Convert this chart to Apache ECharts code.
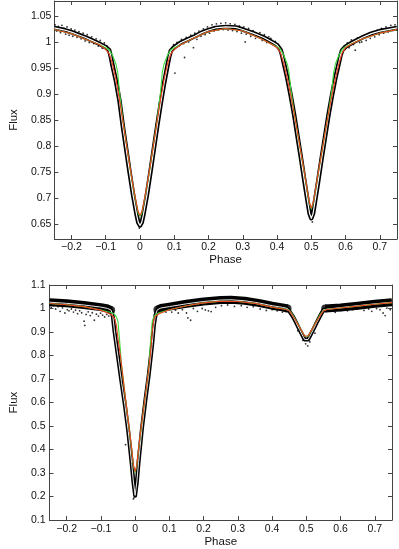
<!DOCTYPE html>
<html>
<head>
<meta charset="utf-8">
<script src="https://cdn.jsdelivr.net/npm/echarts@6/dist/echarts.min.js"></script>
<style>
  html, body { margin: 0; padding: 0; background: #fff; }
  #main { width: 399px; height: 549px; }
</style>
</head>
<body>
<div id="main"></div>
<script>
// tick labels
const xTicks = [-0.2, -0.1, 0, 0.1, 0.2, 0.3, 0.4, 0.5, 0.6, 0.7];
const topYTicks = [0.65, 0.7, 0.75, 0.8, 0.85, 0.9, 0.95, 1, 1.05];
const botYTicks = [0.1, 0.2, 0.3, 0.4, 0.5, 0.6, 0.7, 0.8, 0.9, 1, 1.1];

// top panel: [phase, flux]
const topBlack = [
  [-0.25,1.028],[-0.22,1.024],[-0.20,1.020],[-0.18,1.015],[-0.16,1.010],[-0.14,1.004],[-0.12,0.998],
  [-0.10,0.991],[-0.09,0.985],[-0.085,0.972],[-0.08,0.955],[-0.07,0.925],[-0.06,0.888],[-0.05,0.838],
  [-0.04,0.793],[-0.03,0.748],[-0.02,0.705],[-0.01,0.668],[-0.005,0.653],[0,0.647],[0.005,0.653],
  [0.01,0.668],[0.02,0.705],[0.03,0.748],[0.04,0.793],[0.05,0.838],[0.06,0.880],[0.07,0.920],
  [0.08,0.955],[0.085,0.972],[0.09,0.984],[0.10,0.991],[0.12,1.000],[0.14,1.006],[0.16,1.012],
  [0.18,1.019],[0.20,1.024],[0.22,1.028],[0.25,1.030],[0.28,1.029],[0.30,1.025],[0.33,1.018],
  [0.36,1.010],[0.38,1.003],[0.40,0.995],[0.41,0.986],[0.415,0.975],[0.42,0.960],[0.43,0.931],
  [0.44,0.897],[0.45,0.860],[0.46,0.818],[0.47,0.776],[0.48,0.732],[0.49,0.690],[0.495,0.670],
  [0.50,0.661],[0.505,0.670],[0.51,0.690],[0.52,0.732],[0.53,0.776],[0.54,0.818],[0.55,0.860],
  [0.56,0.897],[0.57,0.931],[0.58,0.960],[0.585,0.975],[0.59,0.985],[0.60,0.992],[0.62,1.000],
  [0.65,1.010],[0.675,1.017],[0.70,1.022],[0.75,1.028]
];
const topRed = [
  [-0.25,1.025],[-0.20,1.017],[-0.15,1.004],[-0.12,0.996],[-0.10,0.987],[-0.09,0.978],[-0.08,0.958],
  [-0.07,0.928],[-0.06,0.890],[-0.05,0.848],[-0.04,0.805],[-0.03,0.763],[-0.02,0.723],[-0.01,0.688],
  [-0.005,0.673],[0,0.667],[0.005,0.673],[0.01,0.688],[0.02,0.723],[0.03,0.763],[0.04,0.805],
  [0.05,0.848],[0.06,0.890],[0.07,0.928],[0.08,0.958],[0.09,0.978],[0.10,0.987],[0.12,0.996],
  [0.15,1.006],[0.20,1.021],[0.25,1.027],[0.30,1.022],[0.35,1.008],[0.38,0.998],[0.40,0.990],
  [0.41,0.980],[0.42,0.958],[0.43,0.930],[0.44,0.898],[0.45,0.863],[0.46,0.825],[0.47,0.786],
  [0.48,0.748],[0.49,0.708],[0.495,0.690],[0.50,0.681],[0.505,0.690],[0.51,0.708],[0.52,0.748],
  [0.53,0.786],[0.54,0.825],[0.55,0.863],[0.56,0.898],[0.57,0.930],[0.58,0.958],[0.59,0.980],
  [0.60,0.990],[0.62,0.998],[0.65,1.007],[0.70,1.018],[0.75,1.025]
];
const topGreen = [
  [-0.25,1.025],[-0.20,1.017],[-0.15,1.004],[-0.12,0.996],[-0.10,0.990],[-0.09,0.986],[-0.08,0.975],
  [-0.07,0.958],[-0.065,0.942],[-0.06,0.905],[-0.05,0.850],[-0.04,0.805],[-0.03,0.762],[-0.02,0.721],
  [-0.01,0.686],[-0.005,0.670],[0,0.665],[0.005,0.670],[0.01,0.686],[0.02,0.721],[0.03,0.762],
  [0.04,0.805],[0.05,0.850],[0.06,0.905],[0.065,0.942],[0.07,0.958],[0.08,0.975],[0.09,0.986],
  [0.10,0.990],[0.12,0.996],[0.15,1.006],[0.20,1.021],[0.25,1.027],[0.30,1.022],[0.35,1.008],
  [0.38,0.998],[0.40,0.992],[0.41,0.987],[0.42,0.975],[0.43,0.958],[0.435,0.942],[0.44,0.910],
  [0.45,0.865],[0.46,0.825],[0.47,0.785],[0.48,0.747],[0.49,0.706],[0.495,0.688],[0.50,0.679],
  [0.505,0.688],[0.51,0.706],[0.52,0.747],[0.53,0.785],[0.54,0.825],[0.55,0.865],[0.56,0.910],
  [0.565,0.942],[0.57,0.958],[0.58,0.975],[0.59,0.987],[0.60,0.992],[0.62,0.998],[0.65,1.007],
  [0.70,1.018],[0.75,1.025]
];
const topPts = [
  [-0.248,1.034],[-0.243,1.022],[-0.238,1.031],[-0.232,1.019],[-0.228,1.033],[-0.222,1.027],
  [-0.217,1.016],[-0.213,1.030],[-0.207,1.014],[-0.201,1.026],[-0.196,1.012],[-0.19,1.024],
  [-0.184,1.010],[-0.178,1.021],[-0.172,1.007],[-0.166,1.018],[-0.16,1.003],[-0.154,1.015],
  [-0.148,1.000],[-0.141,1.011],[-0.135,0.998],[-0.128,1.007],[-0.122,0.993],[-0.116,1.004],
  [-0.11,0.989],[-0.104,0.999],[-0.097,0.994],
  [0.098,0.996],[0.102,0.941],[0.108,1.000],[0.115,0.994],[0.121,1.006],[0.127,0.998],[0.130,0.971],
  [0.135,1.010],[0.142,1.001],[0.148,1.014],[0.156,0.990],[0.16,1.018],[0.166,1.006],[0.172,1.022],
  [0.178,1.012],[0.185,1.026],[0.19,1.015],[0.197,1.030],[0.203,1.018],[0.21,1.034],[0.216,1.022],
  [0.223,1.036],[0.229,1.024],[0.236,1.037],[0.243,1.025],[0.25,1.038],[0.257,1.024],[0.263,1.036],
  [0.27,1.023],[0.277,1.035],[0.283,1.021],[0.29,1.032],[0.296,1.018],[0.303,1.030],[0.307,1.001],
  [0.31,1.016],[0.317,1.027],[0.323,1.012],[0.33,1.023],[0.337,1.008],[0.345,1.014],[0.35,1.019],
  [0.357,1.004],[0.363,1.015],[0.37,1.000],[0.376,1.011],[0.382,1.008],[0.388,0.996],[0.395,1.002],
  [0.402,0.990],
  [0.605,0.999],[0.61,0.990],[0.617,1.005],[0.623,0.996],[0.628,0.985],[0.635,1.009],[0.641,1.000],
  [0.647,1.001],[0.653,1.013],[0.66,1.004],[0.666,1.017],[0.672,1.008],[0.679,1.021],[0.685,1.011],
  [0.692,1.024],[0.698,1.015],[0.705,1.027],[0.711,1.018],[0.718,1.030],[0.724,1.020],[0.732,1.033],
  [0.738,1.023],[0.744,1.034],[0.749,1.024],
  [0.503,0.654],[-0.002,0.642]
];

// bottom panel: [phase, flux]
const botBlack = [
  [-0.25,1.027],[-0.20,1.022],[-0.15,1.015],[-0.10,1.006],[-0.08,1.000],[-0.07,0.993],[-0.065,0.965],
  [-0.06,0.900],[-0.05,0.795],[-0.04,0.690],[-0.03,0.590],[-0.02,0.477],[-0.01,0.340],[-0.005,0.262],
  [0,0.205],[0.005,0.262],[0.01,0.345],[0.02,0.490],[0.03,0.610],[0.04,0.720],[0.05,0.850],
  [0.055,0.930],[0.06,0.975],[0.065,0.995],[0.075,1.002],[0.10,1.008],[0.15,1.020],[0.20,1.030],
  [0.25,1.036],[0.28,1.037],[0.32,1.033],[0.36,1.024],[0.40,1.012],[0.43,1.005],[0.445,1.000],
  [0.45,0.995],[0.46,0.968],[0.47,0.940],[0.48,0.910],[0.49,0.882],[0.495,0.868],[0.50,0.862],
  [0.505,0.868],[0.51,0.882],[0.52,0.910],[0.53,0.940],[0.54,0.968],[0.55,0.995],[0.555,1.000],
  [0.60,1.004],[0.65,1.012],[0.70,1.020],[0.75,1.027]
];
const botRed = [
  [-0.25,1.021],[-0.20,1.016],[-0.15,1.008],[-0.10,0.993],[-0.08,0.981],[-0.07,0.975],[-0.065,0.970],
  [-0.06,0.958],[-0.055,0.930],[-0.05,0.872],[-0.045,0.820],[-0.04,0.765],[-0.03,0.640],[-0.02,0.520],
  [-0.01,0.405],[-0.005,0.335],[0,0.307],[0.005,0.335],[0.01,0.405],[0.02,0.520],[0.03,0.630],
  [0.04,0.745],[0.045,0.810],[0.05,0.905],[0.055,0.955],[0.06,0.968],[0.07,0.978],[0.10,0.995],
  [0.15,1.012],[0.20,1.024],[0.25,1.031],[0.30,1.030],[0.35,1.022],[0.40,1.006],[0.44,0.996],
  [0.45,0.990],[0.46,0.970],[0.47,0.946],[0.48,0.921],[0.49,0.896],[0.495,0.883],[0.50,0.877],
  [0.505,0.883],[0.51,0.896],[0.52,0.921],[0.53,0.946],[0.54,0.970],[0.55,0.990],[0.56,0.996],
  [0.60,1.002],[0.65,1.010],[0.70,1.018],[0.75,1.025]
];
const botGreen = [
  [-0.25,1.021],[-0.20,1.016],[-0.15,1.008],[-0.10,0.994],[-0.08,0.986],[-0.07,0.983],[-0.065,0.980],
  [-0.06,0.975],[-0.055,0.965],[-0.05,0.945],[-0.045,0.860],[-0.04,0.765],[-0.03,0.640],[-0.02,0.518],
  [-0.01,0.402],[-0.005,0.331],[0,0.303],[0.005,0.331],[0.01,0.402],[0.02,0.518],[0.03,0.630],
  [0.04,0.745],[0.045,0.860],[0.05,0.945],[0.055,0.965],[0.06,0.975],[0.07,0.982],[0.10,0.995],
  [0.15,1.012],[0.20,1.024],[0.25,1.031],[0.30,1.030],[0.35,1.022],[0.40,1.006],[0.44,0.997],
  [0.45,0.992],[0.46,0.974],[0.47,0.948],[0.48,0.921],[0.49,0.895],[0.495,0.882],[0.50,0.876],
  [0.505,0.882],[0.51,0.895],[0.52,0.921],[0.53,0.948],[0.54,0.974],[0.55,0.992],[0.56,0.997],
  [0.60,1.002],[0.65,1.010],[0.70,1.018],[0.75,1.025]
];
const botPts = [
  [-0.245,1.005],[-0.238,1.012],[-0.232,0.998],[-0.225,1.008],[-0.219,0.988],[-0.212,1.003],
  [-0.205,0.981],[-0.198,0.995],[-0.193,0.990],[-0.186,0.998],[-0.18,0.985],[-0.174,0.993],
  [-0.168,0.978],[-0.162,0.990],[-0.156,0.982],[-0.149,0.946],[-0.147,0.928],[-0.143,0.975],
  [-0.137,0.986],[-0.131,0.970],[-0.125,0.982],[-0.119,0.950],[-0.113,0.976],[-0.107,0.968],
  [-0.101,0.980],[-0.095,0.972],[-0.089,0.964],[-0.083,0.975],[-0.077,0.968],
  [-0.051,0.792],[-0.028,0.421],[-0.005,0.190],[0.007,0.254],[-0.003,0.196],[0.002,0.200],
  [0.08,0.990],[0.09,0.985],[0.107,0.985],[0.118,0.993],[0.126,0.981],[0.138,0.995],[0.15,0.981],
  [0.154,0.960],[0.162,0.950],[0.17,1.000],[0.182,0.988],[0.196,1.000],[0.205,0.994],[0.214,0.990],
  [0.222,0.987],[0.235,1.005],[0.252,1.012],[0.27,1.015],[0.29,1.009],[0.31,1.012],[0.327,1.005],
  [0.345,1.008],[0.365,0.998],[0.383,0.992],[0.40,0.995],[0.415,0.990],[0.43,0.985],
  [0.475,0.905],[0.49,0.865],[0.498,0.850],[0.504,0.841],[0.51,0.858],[0.525,0.895],
  [0.57,0.990],[0.584,0.984],[0.60,0.992],[0.62,0.990],[0.635,0.995],[0.65,0.998],[0.668,0.992],
  [0.682,0.998],[0.691,0.988],[0.705,1.000],[0.715,0.995],[0.724,0.981],[0.73,0.970],[0.735,1.002],
  [0.745,0.995]
];

const chart = echarts.init(document.getElementById('main'), null, { renderer: 'canvas' });
const FONT = 'Liberation Sans, Arial, Helvetica, sans-serif';
const axisColor = '#444';
const fmt = (v) => String(v).replace('-', '\u2212');

// out-of-eclipse part of the bottom band is drawn thicker
const inEclipse = (p) => (p > -0.07 && p < 0.065) || (p > 0.445 && p < 0.555);
const botBand = botBlack.map((d) => (inEclipse(d[0]) ? [d[0], null] : d));
// rounded joints where the thick band meets the thinner eclipse curve
const bandEnds = botBlack.filter((d, i) => !inEclipse(d[0]) &&
  ((botBlack[i - 1] && inEclipse(botBlack[i - 1][0])) || (botBlack[i + 1] && inEclipse(botBlack[i + 1][0]))));

function xAx(grid, ticks, show, margin, gap) {
  return {
    type: 'value', gridIndex: grid, min: -0.25, max: 0.75,
    position: show ? 'bottom' : 'top',
    name: show ? 'Phase' : '', nameLocation: 'middle', nameGap: gap,
    nameTextStyle: { fontFamily: FONT, fontSize: 11.5, color: '#111' },
    axisLine: { show: true, onZero: false, lineStyle: { color: axisColor, width: 1 } },
    axisTick: { show: true, inside: true, length: 4, customValues: ticks, lineStyle: { color: axisColor } },
    axisLabel: { show: show, customValues: ticks, formatter: fmt, margin: margin,
      fontFamily: FONT, fontSize: 10.5, color: '#111' },
    splitLine: { show: false }
  };
}
function yAx(grid, min, max, ticks, show, margin, gap) {
  return {
    type: 'value', gridIndex: grid, min: min, max: max,
    position: show ? 'left' : 'right',
    name: show ? 'Flux' : '', nameLocation: 'middle', nameGap: gap,
    nameTextStyle: { fontFamily: FONT, fontSize: 11.5, color: '#111' },
    axisLine: { show: true, onZero: false, lineStyle: { color: axisColor, width: 1 } },
    axisTick: { show: true, inside: true, length: 4, customValues: ticks, lineStyle: { color: axisColor } },
    axisLabel: { show: show, customValues: ticks, formatter: fmt, margin: margin,
      fontFamily: FONT, fontSize: 10.5, color: '#111' },
    splitLine: { show: false }
  };
}
function line(data, xi, yi, color, width, z) {
  return {
    type: 'line', data: data, xAxisIndex: xi, yAxisIndex: yi, showSymbol: false,
    symbol: 'none', z: z, connectNulls: false, silent: true, clip: true,
    lineStyle: { color: color, width: width, join: 'round', cap: 'butt' }
  };
}
function dots(data, xi, yi, size, z) {
  return {
    type: 'scatter', data: data, xAxisIndex: xi, yAxisIndex: yi, symbol: 'circle',
    symbolSize: size || 1.8, z: z || 1, silent: true, itemStyle: { color: '#000' }
  };
}

const option = {
  animation: false,
  backgroundColor: '#fff',
  grid: [
    { left: 39, top: 1, width: 358, height: 238 },
    { left: 34, top: 285, width: 358, height: 238 }
  ],
  xAxis: [
    xAx(0, xTicks, true, 3, 14), xAx(0, xTicks, false, 3, 14),
    xAx(1, xTicks, true, 4, 15), xAx(1, xTicks, false, 4, 15)
  ],
  yAxis: [
    yAx(0, 0.621, 1.08, topYTicks, true, 3, 33), yAx(0, 0.621, 1.08, topYTicks, false, 3, 33),
    yAx(1, 0.1, 1.1, botYTicks, true, 4, 28), yAx(1, 0.1, 1.1, botYTicks, false, 4, 28)
  ],
  series: [
    dots(topPts, 0, 0),
    line(topBlack, 0, 0, '#000', 4.5, 2),
    line(topBlack, 0, 0, '#fff', 1.2, 3),
    line(topGreen, 0, 0, '#3ddc3d', 1.1, 4),
    line(topRed, 0, 0, '#e8421e', 1.1, 5),

    dots(botPts, 2, 2),
    line(botBand, 2, 2, '#000', 8, 2),
    dots(bandEnds, 2, 2, 8, 2),
    line(botBlack, 2, 2, '#000', 4, 2),
    line(botBlack, 2, 2, '#e8e8e8', 1, 3),
    line(botGreen, 2, 2, '#3ddc3d', 1.1, 4),
    line(botRed, 2, 2, '#e8421e', 1.1, 5)
  ]
};
chart.setOption(option);
</script>
</body>
</html>
